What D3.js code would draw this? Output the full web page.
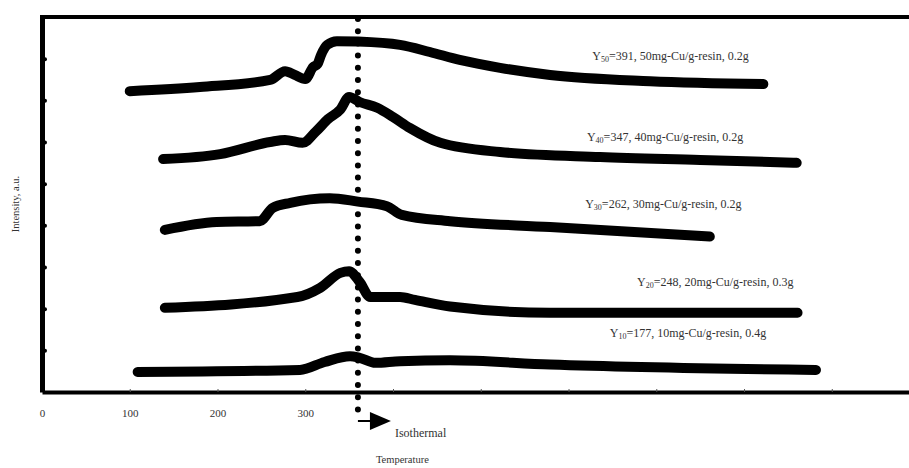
<!doctype html>
<html>
<head>
<meta charset="utf-8">
<script src="https://d3js.org/d3.v7.min.js"></script>
<style>
    body {margin: 0; background: #fff;}
    text {font-family: "Liberation Serif", "DejaVu Serif", serif; fill: #333;}
</style>
</head>
<body>
<svg width="909" height="468"></svg>

<script>
// temperature ticks on the bottom axis (only the first four carry a label)
var xTicks = [0, 100, 200, 300, 400, 500, 600, 700, 800, 900];
var xTickLabels = ["0", "100", "200", "300", "", "", "", "", "", ""];
var yTicks = [1, 2, 3, 4, 5, 6, 7, 8];
var isothermalT = 360;

// each curve: [temperature, intensity (a.u.)]
var y50 = [[100,7.22],[180,7.32],[260,7.49],[277,7.70],[288,7.61],[300,7.51],[309,7.80],[314,7.87],
           [318,8.09],[325,8.33],[336,8.42],[360,8.41],[408,8.33],[442,8.16],[476,7.97],[522,7.78],
           [579,7.61],[693,7.46],[822,7.39]];
var y40 = [[138,5.59],[203,5.71],[260,6.00],[277,6.05],[297,5.98],[312,6.25],[326,6.55],[340,6.78],[350,7.08],
           [362,6.96],[382,6.82],[400,6.60],[419,6.34],[454,5.98],[522,5.76],[636,5.64],[750,5.57],[860,5.50]];
var y30 = [[140,3.89],[199,4.08],[248,4.10],[263,4.42],[283,4.54],[328,4.65],[360,4.57],[393,4.46],
           [410,4.25],[465,4.10],[579,3.96],[761,3.73]];
var y20 = [[140,2.02],[291,2.28],[317,2.50],[340,2.86],[350,2.90],[362,2.64],[374,2.28],[408,2.28],
           [425,2.21],[465,2.05],[579,1.90],[861,1.90]];
var y10 = [[109,0.48],[294,0.53],[322,0.72],[351,0.86],[362,0.82],[380,0.70],[408,0.74],[465,0.76],
           [579,0.66],[882,0.53]];
var series = [y50, y40, y30, y20, y10];

// curve labels: subscript, rest of text
var labelSubs = ["50", "40", "30", "20", "10"];
var labelRest = ["=391, 50mg-Cu/g-resin, 0.2g", "=347, 40mg-Cu/g-resin, 0.2g", "=262, 30mg-Cu/g-resin, 0.2g",
                 "=248, 20mg-Cu/g-resin, 0.3g", "=177, 10mg-Cu/g-resin, 0.4g"];
var labelAt = [[627,7.97],[621,6.02],[619,4.42],[678,2.55],[647,1.32]];

var svg = d3.select("svg");
var x = d3.scaleLinear().domain([0, 988]).range([42, 909]);
var y = d3.scaleLinear().domain([0, 9]).range([392, 17]);

// curves
var line = d3.line()
    .x(function(d){return x(d[0])})
    .y(function(d){return y(d[1])})
    .curve(d3.curveMonotoneX);

svg.append("g").selectAll("path")
    .data(series)
    .enter()
    .append("path")
      .attr("d", line)
      .attr("fill", "none")
      .attr("stroke", "#000")
      .attr("stroke-width", 10)
      .attr("stroke-linecap", "round")
      .attr("stroke-linejoin", "round");

// bottom axis
var xAxis = svg.append("g")
    .attr("transform", "translate(0," + y(0) + ")")
    .call(d3.axisBottom(x).tickValues(xTicks).tickSizeInner(-3).tickSizeOuter(0)
        .tickFormat(function(d,i){return xTickLabels[i]}));
xAxis.select(".domain").attr("stroke-width", 4);
xAxis.selectAll(".tick line").attr("stroke", "#555");
xAxis.selectAll(".tick text").attr("y", 17).attr("font-size", 11)
    .style("font-family", "Liberation Serif").attr("fill", "#333");

// left axis
var yAxis = svg.append("g")
    .attr("transform", "translate(" + x(0) + ",0)")
    .call(d3.axisLeft(y).tickValues(yTicks).tickSizeInner(-3).tickSizeOuter(0).tickFormat(""));
yAxis.select(".domain").attr("stroke-width", 5);
yAxis.selectAll(".tick line").attr("stroke-width", 4).attr("stroke-linecap", "round");

// top frame line
svg.append("line")
    .attr("x1", x(0) - 2).attr("x2", x.range()[1])
    .attr("y1", y(9)).attr("y2", y(9))
    .attr("stroke", "#000").attr("stroke-width", 4);

// isothermal marker
svg.append("line")
    .attr("x1", x(isothermalT)).attr("x2", x(isothermalT))
    .attr("y1", y(9) + 2).attr("y2", y(0) + 19)
    .attr("stroke", "#000").attr("stroke-width", 6)
    .attr("stroke-linecap", "round").attr("stroke-dasharray", "0,12.2");

var ax = x(isothermalT);
svg.append("line")
    .attr("x1", ax).attr("x2", ax + 14)
    .attr("y1", 421).attr("y2", 421)
    .attr("stroke", "#000").attr("stroke-width", 2);
svg.append("path")
    .attr("d", "M" + (ax + 12) + ",412 L" + (ax + 33) + ",421 L" + (ax + 12) + ",430 Z")
    .attr("fill", "#000");
svg.append("text")
    .attr("x", ax + 37).attr("y", 437)
    .attr("font-size", 12).text("Isothermal");
svg.append("text")
    .attr("x", ax + 18).attr("y", 463)
    .attr("font-size", 10.5).text("Temperature");

// y label
svg.append("text")
    .attr("transform", "translate(19,204) rotate(-90)")
    .attr("text-anchor", "middle")
    .attr("font-size", 10.5).text("Intensity, a.u.");

// curve labels
var labels = svg.append("g").selectAll("text")
    .data(labelRest)
    .enter()
    .append("text")
      .attr("x", function(d,i){return x(labelAt[i][0])})
      .attr("y", function(d,i){return y(labelAt[i][1])})
      .attr("font-size", 12);
labels.append("tspan").text("Y");
labels.append("tspan").attr("font-size", 8).attr("dy", 2).text(function(d,i){return labelSubs[i]});
labels.append("tspan").attr("dy", -2).text(function(d){return d});
</script>
</body>
</html>
